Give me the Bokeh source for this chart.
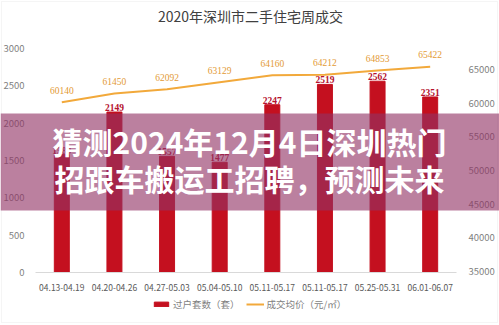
from bokeh.plotting import figure
from bokeh.models import (Range1d, LinearAxis, FixedTicker, ColumnDataSource,
                          BoxAnnotation, Label, Legend, LegendItem, LabelSet)
from bokeh.embed import file_html
from bokeh.resources import INLINE

# ---- data ----
weeks = ["04.13-04.19", "04.20-04.26", "04.27-05.03", "05.04-05.10",
         "05.11-05.17", "05.11-05.17", "05.25-05.31", "06.01-06.07"]
transfers = [1580, 2149, 1557, 1477, 2247, 2519, 2562, 2351]
avg_price = [60140, 61450, 62092, 63129, 64160, 64212, 64853, 65422]
left_ticks = [0, 500, 1000, 1500, 2000, 2500, 3000]
right_ticks = [35000, 40000, 45000, 50000, 55000, 60000, 65000]

title_text = "2020年深圳市二手住宅周成交"
legend_bar = "过户套数（套）"
legend_line = "成交均价（元/㎡）"
banner_line1 = "猜测2024年12月4日深圳热门"
banner_line2 = "招跟车搬运工招聘，预测未来"

BAR = "#C4101F"
LINE = "#F2A93B"
LINE_LBL = "#E39A35"
GREY = "#7F7F7F"
FONT = "Noto Sans CJK SC"

W, H = 499, 325
# plot area (pixels) inside the full canvas frame
PL, PR, PT, PB = 35, 456, 48, 272
n = len(weeks)
slot = (PR - PL) / n
x0 = -0.5 - PL / slot
x1 = -0.5 + (W - PL) / slot
lmax = 3000
ly0 = -(H - PB) * lmax / (PB - PT)
ly1 = lmax + PT * lmax / (PB - PT)
r_lo, r_hi = 34850, 68130
rs = (r_hi - r_lo) / (PB - PT)
ry0 = r_lo - (H - PB) * rs
ry1 = r_hi + PT * rs

xs = list(range(n))
src = ColumnDataSource(dict(
    x=xs, t=transfers, p=avg_price,
    tl=[str(v) for v in transfers], pl=[str(v) for v in avg_price]))

p = figure(width=W, height=H, output_backend="svg", toolbar_location=None,
           x_range=Range1d(x0, x1), y_range=Range1d(ly0, ly1),
           min_border=0, outline_line_color=None,
           background_fill_color="white", border_fill_color="white")
p.xgrid.visible = False
p.ygrid.visible = False
p.extra_y_ranges = {"price": Range1d(ry0, ry1)}

# left axis
la = p.yaxis[0]
la.fixed_location = -0.5
la.bounds = (0, lmax)
la.ticker = FixedTicker(ticks=left_ticks)
la.axis_line_color = None
la.major_tick_line_color = None
la.minor_tick_line_color = None
la.major_label_text_color = GREY
la.major_label_text_font = FONT
la.major_label_text_font_size = "9.5px"
la.major_label_standoff = 5

# right axis
ra = LinearAxis(y_range_name="price", ticker=FixedTicker(ticks=right_ticks),
                fixed_location=n - 0.5, bounds=(r_lo, r_hi))
ra.axis_line_color = None
ra.major_tick_line_color = None
ra.minor_tick_line_color = None
ra.major_label_text_color = GREY
ra.major_label_text_font = FONT
ra.major_label_text_font_size = "9.5px"
ra.major_label_standoff = 6
p.add_layout(ra, "right")

# x axis
xa = p.xaxis[0]
xa.fixed_location = 0
xa.bounds = (-0.5, n - 0.5)
xa.ticker = FixedTicker(ticks=xs)
xa.major_label_overrides = {i: w for i, w in zip(xs, weeks)}
xa.axis_line_color = "#D9D9D9"
xa.major_tick_line_color = None
xa.minor_tick_line_color = None
xa.major_label_text_color = "#595959"
xa.major_label_text_font = FONT
xa.major_label_text_font_size = "8.5px"
xa.major_label_standoff = 5

bars = p.vbar(x="x", top="t", width=0.285, source=src, color=BAR)
line = p.line(x="x", y="p", source=src, y_range_name="price",
              line_color=LINE, line_width=2)

p.add_layout(LabelSet(x="x", y="t", text="tl", source=src, text_align="center",
                      text_baseline="bottom", y_offset=1, text_color="#B5122E",
                      text_font=FONT, text_font_size="9.5px", text_font_style="bold"))
p.add_layout(LabelSet(x="x", y="p", text="pl", source=src, y_range_name="price",
                      text_align="center", text_baseline="middle", y_offset=12,
                      text_color=LINE_LBL, text_font=FONT, text_font_size="9.5px"))

# title
p.add_layout(Label(x=250, y=H - 15, x_units="screen", y_units="screen", text=title_text,
                   text_align="center", text_baseline="middle", text_color="#404040",
                   text_font=FONT, text_font_size="14px"))

# legend
leg = Legend(items=[LegendItem(label=legend_bar, renderers=[bars]),
                    LegendItem(label=legend_line, renderers=[line])],
             orientation="horizontal", location=(152, 14),
             background_fill_alpha=0, border_line_color=None,
             glyph_width=18, glyph_height=6, label_height=12,
             label_text_font=FONT, label_text_font_size="9.5px",
             label_text_color=GREY, padding=0, margin=0, spacing=6,
             label_standoff=3)
p.add_layout(leg)

# chart border
p.add_layout(BoxAnnotation(left=1, right=W - 2, bottom=3, top=H - 1,
                           left_units="screen", right_units="screen",
                           bottom_units="screen", top_units="screen",
                           fill_alpha=0, line_color="#DDDDDD", line_width=1))

# banner overlay
p.add_layout(BoxAnnotation(left=0, right=W, bottom=H - 210, top=H - 113,
                           left_units="screen", right_units="screen",
                           bottom_units="screen", top_units="screen",
                           fill_color="#913264", fill_alpha=0.62, line_color=None))
for txt, yy in [(banner_line1, 140), (banner_line2, 177)]:
    p.add_layout(Label(x=249, y=H - yy, x_units="screen", y_units="screen", text=txt,
                       text_align="center", text_baseline="middle", text_color="white",
                       text_font=FONT, text_font_size="30px", text_font_style="bold"))

open("out.html", "w").write(file_html(p, INLINE))
